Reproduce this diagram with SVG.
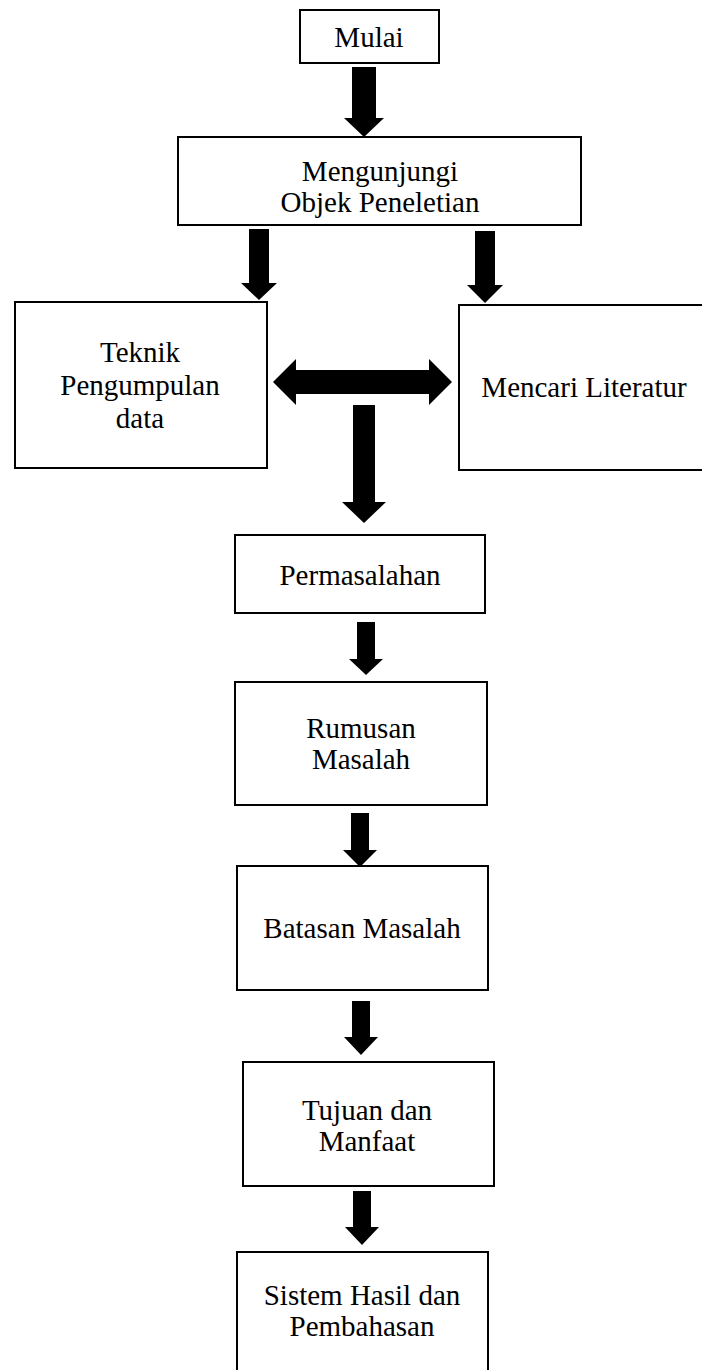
<svg xmlns="http://www.w3.org/2000/svg" width="702" height="1370" viewBox="0 0 702 1370">
<style>
.box{fill:#fff;stroke:#000;stroke-width:2}
.t{font-family:"Liberation Serif","Times New Roman",serif;font-size:29px;fill:#000;text-anchor:middle}
.arr{fill:#000;stroke:none}
</style>
<rect width="702" height="1370" fill="#fff"/>
<g id="connectors">
<polygon class="arr" points="352,67 376,67 376,118 384,118 364,137 344,118 352,118"/>
<polygon class="arr" points="249,229 269,229 269,283 277,283 259,300 241,283 249,283"/>
<polygon class="arr" points="475,231 495,231 495,285 503,285 485,303 467,285 475,285"/>
<polygon class="arr" points="273,382 296,359 296,370 429,370 429,359 452,382 429,405 429,394 296,394 296,405"/>
<polygon class="arr" points="353,405 375,405 375,502 386,502 364,523 342,502 353,502"/>
<polygon class="arr" points="357,622 375,622 375,659 383,659 366,675 349,659 357,659"/>
<polygon class="arr" points="351,813 369,813 369,850 377,850 360,867 343,850 351,850"/>
<polygon class="arr" points="352,1001 370,1001 370,1037 378,1037 361,1055 344,1037 352,1037"/>
<polygon class="arr" points="353,1191 371,1191 371,1227 379,1227 362,1245 345,1227 353,1227"/>
</g>
<g id="mulai">
<rect class="box" x="300" y="10" width="139" height="53"/>
<text class="t" x="369" y="47">Mulai</text>
</g>
<g id="mengunjungi">
<rect class="box" x="178" y="137" width="403" height="88"/>
<text class="t" x="380" y="181">Mengunjungi</text>
<text class="t" x="380" y="212">Objek Peneletian</text>
</g>
<g id="teknik">
<rect class="box" x="15" y="302" width="252" height="166"/>
<text class="t" x="140" y="362">Teknik</text>
<text class="t" x="140" y="395">Pengumpulan</text>
<text class="t" x="140" y="428">data</text>
</g>
<g id="mencari">
<rect class="box" x="459" y="305" width="260" height="165"/>
<text class="t" x="584" y="397">Mencari Literatur</text>
</g>
<g id="permasalahan">
<rect class="box" x="235" y="535" width="250" height="78"/>
<text class="t" x="360" y="585">Permasalahan</text>
</g>
<g id="rumusan">
<rect class="box" x="235" y="682" width="252" height="123"/>
<text class="t" x="361" y="738">Rumusan</text>
<text class="t" x="361" y="769">Masalah</text>
</g>
<g id="batasan">
<rect class="box" x="237" y="866" width="251" height="124"/>
<text class="t" x="362" y="938">Batasan Masalah</text>
</g>
<g id="tujuan">
<rect class="box" x="243" y="1062" width="251" height="124"/>
<text class="t" x="367" y="1120">Tujuan dan</text>
<text class="t" x="367" y="1151">Manfaat</text>
</g>
<g id="sistem">
<rect class="box" x="237" y="1252" width="251" height="140"/>
<text class="t" x="362" y="1305">Sistem Hasil dan</text>
<text class="t" x="362" y="1336">Pembahasan</text>
</g>
</svg>
